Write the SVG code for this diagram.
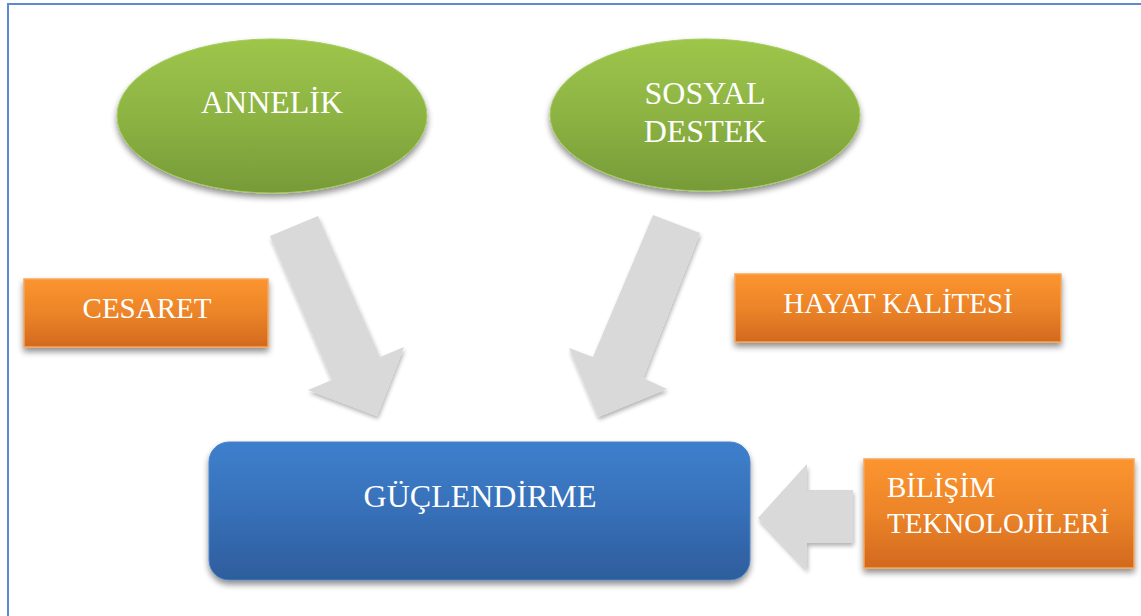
<svg xmlns="http://www.w3.org/2000/svg" width="1141" height="616" viewBox="0 0 1141 616">
  <defs>
    <linearGradient id="gGreen" x1="0" y1="0" x2="0" y2="1">
      <stop offset="0" stop-color="#9dc64b"/>
      <stop offset="0.5" stop-color="#8db343"/>
      <stop offset="1" stop-color="#769b38"/>
    </linearGradient>
    <linearGradient id="gOrange" x1="0" y1="0" x2="0" y2="1">
      <stop offset="0" stop-color="#fc952f"/>
      <stop offset="0.5" stop-color="#ec8429"/>
      <stop offset="1" stop-color="#d2691e"/>
    </linearGradient>
    <linearGradient id="gBlue" x1="0" y1="0" x2="0" y2="1">
      <stop offset="0" stop-color="#3e7fcc"/>
      <stop offset="0.5" stop-color="#3770b8"/>
      <stop offset="1" stop-color="#2e5d9c"/>
    </linearGradient>
    <filter id="shadow" x="-10%" y="-10%" width="120%" height="130%">
      <feGaussianBlur in="SourceAlpha" stdDeviation="3"/>
      <feOffset dx="0" dy="4" result="b"/>
      <feComponentTransfer><feFuncA type="linear" slope="0.45"/></feComponentTransfer>
      <feMerge><feMergeNode/><feMergeNode in="SourceGraphic"/></feMerge>
    </filter>
    <filter id="arrowShadow" x="-10%" y="-10%" width="130%" height="130%">
      <feGaussianBlur in="SourceAlpha" stdDeviation="2"/>
      <feOffset dx="1" dy="3" result="b"/>
      <feComponentTransfer><feFuncA type="linear" slope="0.3"/></feComponentTransfer>
      <feMerge><feMergeNode/><feMergeNode in="SourceGraphic"/></feMerge>
    </filter>
  </defs>
  <style>
    .label { font-family: "Liberation Serif", "Times New Roman", serif; fill: #ffffff; }
    .big { font-size: 32px; }
    .small { font-size: 29px; }
    .ellipse { fill: url(#gGreen); stroke: #a6cc5c; stroke-width: 1; filter: url(#shadow); }
    .orange { fill: url(#gOrange); stroke: #f9a55a; stroke-width: 1.5; filter: url(#shadow); }
    .blue { fill: url(#gBlue); stroke: #4a83c8; stroke-width: 1; filter: url(#shadow); }
    .arrow { fill: #d9d9d9; filter: url(#arrowShadow); }
  </style>

  <rect width="1141" height="616" fill="#ffffff"/>
  <!-- page frame -->
  <rect x="8" y="4" width="1150" height="630" fill="none" stroke="#5b8bd0" stroke-width="2"/>

  <!-- block arrows -->
  <g id="connectors">
    <polygon class="arrow" points="270,236 318,216 380,357 404,347 377,416 308,390 332,380"/>
    <polygon class="arrow" points="700,233 653,215 593,357 569,348 598,417 667,389 643,378"/>
    <polygon class="arrow" points="758,518 807,464 807,490 853,490 853,543 807,543 807,570"/>
  </g>

  <g id="annelik">
    <ellipse class="ellipse" cx="272" cy="116" rx="155" ry="77"/>
    <text class="label big" x="272" y="113" text-anchor="middle">ANNELİK</text>
  </g>

  <g id="sosyal-destek">
    <ellipse class="ellipse" cx="705" cy="115" rx="155" ry="76"/>
    <text class="label big" x="705" y="104" text-anchor="middle">SOSYAL</text>
    <text class="label big" x="705" y="142" text-anchor="middle">DESTEK</text>
  </g>

  <g id="cesaret">
    <rect class="orange" x="24" y="279" width="244" height="68"/>
    <text class="label small" x="147" y="318" text-anchor="middle">CESARET</text>
  </g>

  <g id="hayat-kalitesi">
    <rect class="orange" x="735" y="274" width="326" height="68"/>
    <text class="label small" x="898" y="313" text-anchor="middle">HAYAT KALİTESİ</text>
  </g>

  <g id="guclendirme">
    <rect class="blue" x="209" y="442" width="541" height="138" rx="20" ry="20"/>
    <text class="label big" x="480" y="507" text-anchor="middle">GÜÇLENDİRME</text>
  </g>

  <g id="bilisim-teknolojileri">
    <rect class="orange" x="864" y="459" width="270" height="109"/>
    <text class="label small" x="887" y="497">BİLİŞİM</text>
    <text class="label small" x="887" y="533">TEKNOLOJİLERİ</text>
  </g>
</svg>
